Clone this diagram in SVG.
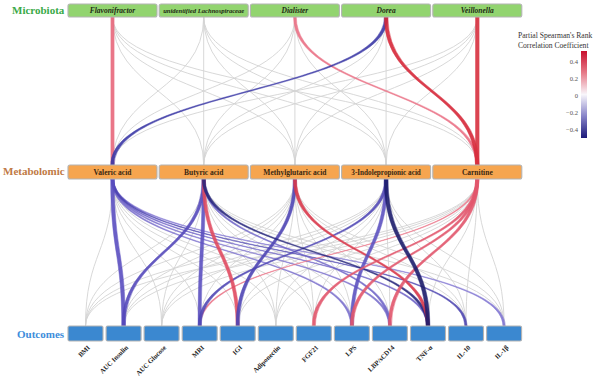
<svg xmlns="http://www.w3.org/2000/svg" width="602" height="384" viewBox="0 0 602 384">
<defs>
<linearGradient id="cbar" x1="0" y1="0" x2="0" y2="1">
<stop offset="0" stop-color="#c8102e"/>
<stop offset="0.25" stop-color="#e67a88"/>
<stop offset="0.5" stop-color="#f8f6fb"/>
<stop offset="0.75" stop-color="#8783c8"/>
<stop offset="1" stop-color="#1c1a7a"/>
</linearGradient>
</defs>
<style>
.g{fill:none;stroke:#d4d4d4;stroke-width:0.9}
.r{stroke-width:0.5;opacity:0.9}
.bm{fill:#92d46f;stroke:#b4b4b4;stroke-width:1.1}
.bo{fill:#f6a54f;stroke:#b4b4b4;stroke-width:1.1}
.bb{fill:#3b88d0;stroke:#b4b4b4;stroke-width:1.1}
.tm{font-family:"Liberation Serif",serif;font-weight:bold;font-style:italic;font-size:7.5px;fill:#1e2a14;text-anchor:middle}
.to{font-family:"Liberation Serif",serif;font-weight:bold;font-size:7.5px;fill:#3a2812;text-anchor:middle}
.tl{font-family:"Liberation Serif",serif;font-weight:bold;font-size:6.8px;fill:#222;text-anchor:end}
.ti{font-family:"Liberation Serif",serif;font-weight:bold;font-size:11px}
.lg{font-family:"Liberation Serif",serif;font-size:7.6px;fill:#333}
.tk{font-family:"Liberation Serif",serif;font-size:6.6px;fill:#555;text-anchor:end}
</style>
<rect width="602" height="384" fill="#ffffff"/>
<g id="connectors">
<g id="grey-top">
<path class="g" d="M112.5 17 C112.5 91 203.7 91 203.7 165"/>
<path class="g" d="M112.5 17 C112.5 91 294.9 91 294.9 165"/>
<path class="g" d="M112.5 17 C112.5 91 386.1 91 386.1 165"/>
<path class="g" d="M112.5 17 C112.5 91 477.3 91 477.3 165"/>
<path class="g" d="M203.7 17 C203.7 91 112.5 91 112.5 165"/>
<path class="g" d="M203.7 17 L203.7 165"/>
<path class="g" d="M203.7 17 C203.7 91 294.9 91 294.9 165"/>
<path class="g" d="M203.7 17 C203.7 91 386.1 91 386.1 165"/>
<path class="g" d="M203.7 17 C203.7 91 477.3 91 477.3 165"/>
<path class="g" d="M294.9 17 C294.9 91 112.5 91 112.5 165"/>
<path class="g" d="M294.9 17 C294.9 91 203.7 91 203.7 165"/>
<path class="g" d="M294.9 17 L294.9 165"/>
<path class="g" d="M294.9 17 C294.9 91 386.1 91 386.1 165"/>
<path class="g" d="M386.1 17 C386.1 91 203.7 91 203.7 165"/>
<path class="g" d="M386.1 17 C386.1 91 294.9 91 294.9 165"/>
<path class="g" d="M386.1 17 L386.1 165"/>
<path class="g" d="M477.3 17 C477.3 91 112.5 91 112.5 165"/>
<path class="g" d="M477.3 17 C477.3 91 203.7 91 203.7 165"/>
<path class="g" d="M477.3 17 C477.3 91 294.9 91 294.9 165"/>
<path class="g" d="M477.3 17 C477.3 91 386.1 91 386.1 165"/>
</g>
<g id="grey-bottom">
<path class="g" d="M112.5 179 C112.5 252.5 85.5 252.5 85.5 326"/>
<path class="g" d="M112.5 179 C112.5 252.5 161.6 252.5 161.6 326"/>
<path class="g" d="M112.5 179 C112.5 252.5 199.7 252.5 199.7 326"/>
<path class="g" d="M112.5 179 C112.5 252.5 237.7 252.5 237.7 326"/>
<path class="g" d="M112.5 179 C112.5 252.5 275.8 252.5 275.8 326"/>
<path class="g" d="M112.5 179 C112.5 252.5 313.8 252.5 313.8 326"/>
<path class="g" d="M203.7 179 C203.7 252.5 85.5 252.5 85.5 326"/>
<path class="g" d="M203.7 179 C203.7 252.5 161.6 252.5 161.6 326"/>
<path class="g" d="M203.7 179 C203.7 252.5 275.8 252.5 275.8 326"/>
<path class="g" d="M203.7 179 C203.7 252.5 313.8 252.5 313.8 326"/>
<path class="g" d="M203.7 179 C203.7 252.5 351.9 252.5 351.9 326"/>
<path class="g" d="M203.7 179 C203.7 252.5 466 252.5 466 326"/>
<path class="g" d="M203.7 179 C203.7 252.5 504.1 252.5 504.1 326"/>
<path class="g" d="M294.9 179 C294.9 252.5 85.5 252.5 85.5 326"/>
<path class="g" d="M294.9 179 C294.9 252.5 123.6 252.5 123.6 326"/>
<path class="g" d="M294.9 179 C294.9 252.5 161.6 252.5 161.6 326"/>
<path class="g" d="M294.9 179 C294.9 252.5 199.7 252.5 199.7 326"/>
<path class="g" d="M294.9 179 C294.9 252.5 275.8 252.5 275.8 326"/>
<path class="g" d="M294.9 179 C294.9 252.5 313.8 252.5 313.8 326"/>
<path class="g" d="M294.9 179 C294.9 252.5 351.9 252.5 351.9 326"/>
<path class="g" d="M294.9 179 C294.9 252.5 389.9 252.5 389.9 326"/>
<path class="g" d="M294.9 179 C294.9 252.5 466 252.5 466 326"/>
<path class="g" d="M294.9 179 C294.9 252.5 504.1 252.5 504.1 326"/>
<path class="g" d="M386.1 179 C386.1 252.5 85.5 252.5 85.5 326"/>
<path class="g" d="M386.1 179 C386.1 252.5 123.6 252.5 123.6 326"/>
<path class="g" d="M386.1 179 C386.1 252.5 161.6 252.5 161.6 326"/>
<path class="g" d="M386.1 179 C386.1 252.5 237.7 252.5 237.7 326"/>
<path class="g" d="M386.1 179 C386.1 252.5 275.8 252.5 275.8 326"/>
<path class="g" d="M386.1 179 C386.1 252.5 313.8 252.5 313.8 326"/>
<path class="g" d="M386.1 179 C386.1 252.5 389.9 252.5 389.9 326"/>
<path class="g" d="M386.1 179 C386.1 252.5 466 252.5 466 326"/>
<path class="g" d="M386.1 179 C386.1 252.5 504.1 252.5 504.1 326"/>
<path class="g" d="M477.3 179 C477.3 252.5 85.5 252.5 85.5 326"/>
<path class="g" d="M477.3 179 C477.3 252.5 123.6 252.5 123.6 326"/>
<path class="g" d="M477.3 179 C477.3 252.5 161.6 252.5 161.6 326"/>
<path class="g" d="M477.3 179 C477.3 252.5 237.7 252.5 237.7 326"/>
<path class="g" d="M477.3 179 C477.3 252.5 275.8 252.5 275.8 326"/>
<path class="g" d="M477.3 179 C477.3 252.5 428 252.5 428 326"/>
<path class="g" d="M477.3 179 C477.3 252.5 466 252.5 466 326"/>
<path class="g" d="M477.3 179 C477.3 252.5 504.1 252.5 504.1 326"/>
</g>
<g id="colored-top">
<path class="r" fill="#e8687c" stroke="#e8687c" d="M110.9 17 L110.9 165 L114.1 165 L114.1 17Z"/>
<path class="r" fill="#eb7085" stroke="#eb7085" d="M293.5 17 C293.5 91 475.9 91 475.9 165 L478.7 165 C478.7 91 296.3 91 296.3 17Z"/>
<path class="r" fill="#3b38a6" stroke="#3b38a6" d="M384.4 17 C384.4 91 110.8 91 110.8 165 L114.2 165 C114.2 91 387.8 91 387.8 17Z"/>
<path class="r" fill="#d62839" stroke="#d62839" d="M384.3 17 C384.3 91 475.5 91 475.5 165 L479.1 165 C479.1 91 387.9 91 387.9 17Z"/>
<path class="r" fill="#d8303f" stroke="#d8303f" d="M475.5 17 L475.5 165 L479.1 165 L479.1 17Z"/>
</g>
<g id="colored-bottom">
<path class="r" fill="#8075d2" stroke="#8075d2" d="M111.3 179 C111.3 252.5 502.9 252.5 502.9 326 L505.3 326 C505.3 252.5 113.7 252.5 113.7 179Z"/>
<path class="r" fill="#7a6fcc" stroke="#7a6fcc" d="M111.3 179 C111.3 252.5 350.7 252.5 350.7 326 L353.1 326 C353.1 252.5 113.7 252.5 113.7 179Z"/>
<path class="r" fill="#7a6fcc" stroke="#7a6fcc" d="M111.3 179 C111.3 252.5 388.7 252.5 388.7 326 L391.1 326 C391.1 252.5 113.7 252.5 113.7 179Z"/>
<path class="r" fill="#6c60c6" stroke="#6c60c6" d="M111.3 179 C111.3 252.5 426.8 252.5 426.8 326 L429.2 326 C429.2 252.5 113.7 252.5 113.7 179Z"/>
<path class="r" fill="#4c44b0" stroke="#4c44b0" d="M111.3 179 C111.3 252.5 464.8 252.5 464.8 326 L467.2 326 C467.2 252.5 113.7 252.5 113.7 179Z"/>
<path class="r" fill="#7066c8" stroke="#7066c8" d="M202.5 179 C202.5 252.5 388.7 252.5 388.7 326 L391.1 326 C391.1 252.5 204.9 252.5 204.9 179Z"/>
<path class="r" fill="#5a4ec0" stroke="#5a4ec0" d="M110.7 179 C110.7 252.5 121.8 252.5 121.8 326 L125.4 326 C125.4 252.5 114.3 252.5 114.3 179Z"/>
<path class="r" fill="#5549bb" stroke="#5549bb" d="M202.1 179 C202.1 252.5 122 252.5 122 326 L125.2 326 C125.2 252.5 205.3 252.5 205.3 179Z"/>
<path class="r" fill="#ea7185" stroke="#ea7185" d="M476.5 179 C476.5 252.5 198.9 252.5 198.9 326 L200.5 326 C200.5 252.5 478.1 252.5 478.1 179Z"/>
<path class="r" fill="#5c50c0" stroke="#5c50c0" d="M202.1 179 C202.1 252.5 198.1 252.5 198.1 326 L201.3 326 C201.3 252.5 205.3 252.5 205.3 179Z"/>
<path class="r" fill="#5148b5" stroke="#5148b5" d="M384.6 179 C384.6 252.5 198.2 252.5 198.2 326 L201.2 326 C201.2 252.5 387.6 252.5 387.6 179Z"/>
<path class="r" fill="#e04a60" stroke="#e04a60" d="M202.1 179 C202.1 252.5 236.1 252.5 236.1 326 L239.3 326 C239.3 252.5 205.3 252.5 205.3 179Z"/>
<path class="r" fill="#4e45b4" stroke="#4e45b4" d="M293.3 179 C293.3 252.5 236.1 252.5 236.1 326 L239.3 326 C239.3 252.5 296.5 252.5 296.5 179Z"/>
<path class="r" fill="#27267c" stroke="#27267c" d="M202.2 179 C202.2 252.5 426.5 252.5 426.5 326 L429.5 326 C429.5 252.5 205.2 252.5 205.2 179Z"/>
<path class="r" fill="#d9374a" stroke="#d9374a" d="M293.3 179 C293.3 252.5 426.4 252.5 426.4 326 L429.6 326 C429.6 252.5 296.5 252.5 296.5 179Z"/>
<path class="r" fill="#5d52c0" stroke="#5d52c0" d="M384.5 179 C384.5 252.5 350.3 252.5 350.3 326 L353.5 326 C353.5 252.5 387.7 252.5 387.7 179Z"/>
<path class="r" fill="#e2566c" stroke="#e2566c" d="M475.7 179 C475.7 252.5 312.2 252.5 312.2 326 L315.4 326 C315.4 252.5 478.9 252.5 478.9 179Z"/>
<path class="r" fill="#e2566c" stroke="#e2566c" d="M475.7 179 C475.7 252.5 350.3 252.5 350.3 326 L353.5 326 C353.5 252.5 478.9 252.5 478.9 179Z"/>
<path class="r" fill="#e2566c" stroke="#e2566c" d="M475.7 179 C475.7 252.5 388.3 252.5 388.3 326 L391.5 326 C391.5 252.5 478.9 252.5 478.9 179Z"/>
<path class="r" fill="#1c1c6c" stroke="#1c1c6c" d="M384.2 179 C384.2 252.5 426.1 252.5 426.1 326 L429.9 326 C429.9 252.5 388 252.5 388 179Z"/>
</g>
</g>
<g id="titles">
<text class="ti" x="12" y="14" fill="#3aaa48">Microbiota</text>
<text class="ti" x="3" y="175" fill="#c07a45">Metabolomic</text>
<text class="ti" x="17" y="337.5" fill="#3d8ddb">Outcomes</text>
</g>
<g id="microbiota">
<g id="m-flavonifractor"><rect class="bm" x="68" y="4" width="89" height="13" rx="2"/><text class="tm" x="112.5" y="13.3">Flavonifractor</text></g>
<g id="m-lachnospiraceae"><rect class="bm" x="159.2" y="4" width="89" height="13" rx="2"/><text class="tm" x="203.7" y="13.1" style="font-size:6.6px">unidentified Lachnospiraceae</text></g>
<g id="m-dialister"><rect class="bm" x="250.4" y="4" width="89" height="13" rx="2"/><text class="tm" x="294.9" y="13.3">Dialister</text></g>
<g id="m-dorea"><rect class="bm" x="341.6" y="4" width="89" height="13" rx="2"/><text class="tm" x="386.1" y="13.3">Dorea</text></g>
<g id="m-veillonella"><rect class="bm" x="432.8" y="4" width="89" height="13" rx="2"/><text class="tm" x="477.3" y="13.3">Veillonella</text></g>
</g>
<g id="metabolomic">
<g id="x-valeric"><rect class="bo" x="68" y="165" width="89" height="14" rx="2"/><text class="to" x="112.5" y="174.6">Valeric acid</text></g>
<g id="x-butyric"><rect class="bo" x="159.2" y="165" width="89" height="14" rx="2"/><text class="to" x="203.7" y="174.6">Butyric acid</text></g>
<g id="x-methylglutaric"><rect class="bo" x="250.4" y="165" width="89" height="14" rx="2"/><text class="to" x="294.9" y="174.6">Methylglutaric acid</text></g>
<g id="x-indolepropionic"><rect class="bo" x="341.6" y="165" width="89" height="14" rx="2"/><text class="to" x="386.1" y="174.6" style="font-size:7.2px">3-Indolepropionic acid</text></g>
<g id="x-carnitine"><rect class="bo" x="432.8" y="165" width="89" height="14" rx="2"/><text class="to" x="477.3" y="174.6">Carnitine</text></g>
</g>
<g id="outcomes">
<g id="o-bmi"><rect class="bb" x="68" y="326" width="35" height="15" rx="1.5"/><text class="tl" transform="translate(90.5 348) rotate(-45)">BMI</text></g>
<g id="o-auc-insulin"><rect class="bb" x="106.1" y="326" width="35" height="15" rx="1.5"/><text class="tl" transform="translate(128.6 348) rotate(-45)">AUC Insulin</text></g>
<g id="o-auc-glucose"><rect class="bb" x="144.1" y="326" width="35" height="15" rx="1.5"/><text class="tl" transform="translate(166.6 348) rotate(-45)">AUC Glucose</text></g>
<g id="o-mri"><rect class="bb" x="182.2" y="326" width="35" height="15" rx="1.5"/><text class="tl" transform="translate(204.7 348) rotate(-45)">MRI</text></g>
<g id="o-igi"><rect class="bb" x="220.2" y="326" width="35" height="15" rx="1.5"/><text class="tl" transform="translate(242.7 348) rotate(-45)">IGI</text></g>
<g id="o-adiponectin"><rect class="bb" x="258.3" y="326" width="35" height="15" rx="1.5"/><text class="tl" transform="translate(280.8 348) rotate(-45)">Adiponectin</text></g>
<g id="o-fgf21"><rect class="bb" x="296.3" y="326" width="35" height="15" rx="1.5"/><text class="tl" transform="translate(318.8 348) rotate(-45)">FGF21</text></g>
<g id="o-lps"><rect class="bb" x="334.4" y="326" width="35" height="15" rx="1.5"/><text class="tl" transform="translate(356.9 348) rotate(-45)">LPS</text></g>
<g id="o-lbp"><rect class="bb" x="372.4" y="326" width="35" height="15" rx="1.5"/><text class="tl" transform="translate(394.9 348) rotate(-45)">LBP/sCD14</text></g>
<g id="o-tnf"><rect class="bb" x="410.5" y="326" width="35" height="15" rx="1.5"/><text class="tl" transform="translate(433 348) rotate(-45)">TNF-α</text></g>
<g id="o-il10"><rect class="bb" x="448.5" y="326" width="35" height="15" rx="1.5"/><text class="tl" transform="translate(471 348) rotate(-45)">IL-10</text></g>
<g id="o-il1b"><rect class="bb" x="486.6" y="326" width="35" height="15" rx="1.5"/><text class="tl" transform="translate(509.1 348) rotate(-45)">IL-1β</text></g>
</g>
<g id="legend">
<text class="lg" x="518" y="37.5">Partial Spearman's Rank</text>
<text class="lg" x="518" y="47.5">Correlation Coefficient</text>
<rect x="581" y="51" width="6" height="87" fill="url(#cbar)"/>
<text class="tk" x="578" y="64">0.4</text>
<text class="tk" x="578" y="81">0.2</text>
<text class="tk" x="578" y="98">0</text>
<text class="tk" x="578" y="115">−0.2</text>
<text class="tk" x="578" y="131.5">−0.4</text>
</g>
</svg>
